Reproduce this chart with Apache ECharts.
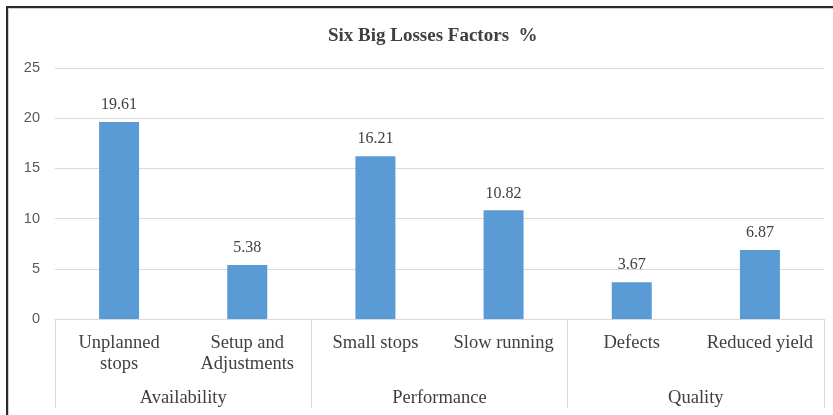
<!DOCTYPE html>
<html>
<head>
<meta charset="utf-8">
<script src="https://cdn.jsdelivr.net/npm/echarts@6/dist/echarts.min.js"></script>
<style>
  html, body { margin: 0; padding: 0; background: #fff; }
  #chart { width: 833px; height: 415px; }
  #frame { position: absolute; left: 6px; top: 6px; width: 840px; height: 420px;
           border-left: 2px solid #2b2b2b; border-top: 2px solid #2b2b2b; pointer-events: none; }
  #inner { position: absolute; left: 8px; top: 8px; width: 840px; height: 420px;
           border-left: 1px solid #d0d0d0; border-top: 1px solid #d0d0d0; pointer-events: none; }
</style>
</head>
<body>
<div id="chart"></div>
<div id="frame"></div>
<div id="inner"></div>
<script>
const categories = ['Unplanned\nstops', 'Setup and\nAdjustments', 'Small stops', 'Slow running', 'Defects', 'Reduced yield'];
const groups = ['Availability', 'Performance', 'Quality'];
const values = [19.61, 5.38, 16.21, 10.82, 3.67, 6.87];
const yTicks = [0, 5, 10, 15, 20, 25];

const serif = '"Liberation Serif", "Times New Roman", serif';
const chart = echarts.init(document.getElementById('chart'));
chart.setOption({
  animation: false,
  title: {
    text: 'Six Big Losses Factors  %',
    left: 323, top: 22,
    textStyle: { fontFamily: serif, fontWeight: 'bold', fontSize: 19, color: '#404040' }
  },
  grid: { left: 55, right: 9, top: 68, bottom: 96 },
  xAxis: [
    {
      type: 'category', data: categories, position: 'bottom',
      axisLine: { lineStyle: { color: '#d9d9d9', width: 1 } },
      axisTick: { show: false },
      axisLabel: { interval: 0, margin: 14, fontFamily: serif, fontSize: 18.5, color: '#404040', lineHeight: 21 }
    },
    {
      type: 'category', data: groups, position: 'bottom',
      axisLine: { show: false },
      axisTick: { show: true, length: 89, lineStyle: { color: '#d9d9d9', width: 1 } },
      axisLabel: { interval: 0, margin: 70, fontFamily: serif, fontSize: 18.5, color: '#404040' }
    }
  ],
  yAxis: {
    type: 'value', min: yTicks[0], max: yTicks[yTicks.length - 1], interval: 5,
    axisLine: { show: false }, axisTick: { show: false },
    splitLine: { lineStyle: { color: '#d9d9d9', width: 1 } },
    axisLabel: { margin: 15, fontFamily: '"Liberation Sans", Arial, sans-serif', fontSize: 14.5, color: '#595959' }
  },
  series: [{
    type: 'bar', data: values, xAxisIndex: 0, barWidth: 40,
    itemStyle: { color: '#5B9BD5' },
    label: { show: true, position: 'top', distance: 9, fontFamily: serif, fontSize: 16, color: '#404040',
             formatter: p => p.value.toFixed(2) }
  }]
});
</script>
</body>
</html>
